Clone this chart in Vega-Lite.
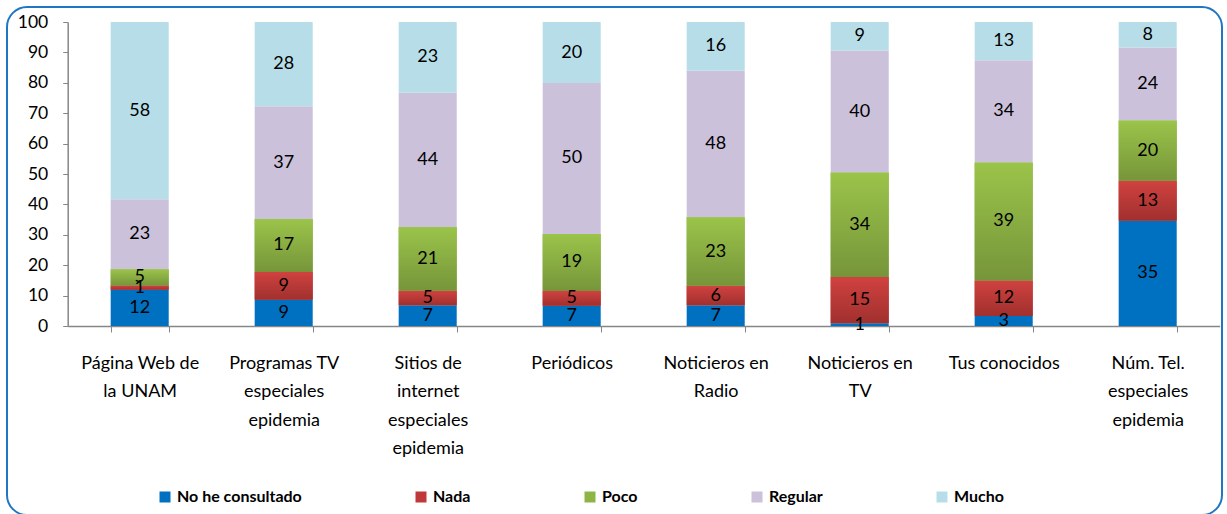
{
  "$schema": "https://vega.github.io/schema/vega-lite/v6.json",
  "autosize": "none",
  "width": 1215,
  "height": 508,
  "padding": {"left": 7, "top": 7, "right": 5, "bottom": 0},
  "background": "white",
  "config": {
    "view": {"stroke": "#2176C4", "strokeWidth": 2, "cornerRadius": 20},
    "font": "Lato",
    "axisY": {
      "title": null,
      "offset": -60.7,
      "values": [0, 10, 20, 30, 40, 50, 60, 70, 80, 90, 100],
      "grid": false,
      "tickSize": 5,
      "tickColor": "#868686",
      "domainColor": "#868686",
      "domainWidth": 1.5,
      "labelFontSize": 17.5,
      "labelColor": "#000000",
      "labelPadding": 15
    }
  },
  "data": {
    "values": [
      {"cat": "Página Web de la UNAM", "serie": "No he consultado", "k": 1, "v": 11.9},
      {"cat": "Página Web de la UNAM", "serie": "Nada", "k": 2, "v": 1.4},
      {"cat": "Página Web de la UNAM", "serie": "Poco", "k": 3, "v": 5.4},
      {"cat": "Página Web de la UNAM", "serie": "Regular", "k": 4, "v": 23.0},
      {"cat": "Página Web de la UNAM", "serie": "Mucho", "k": 5, "v": 58.3},
      {"cat": "Programas TV especiales epidemia", "serie": "No he consultado", "k": 1, "v": 8.6},
      {"cat": "Programas TV especiales epidemia", "serie": "Nada", "k": 2, "v": 9.2},
      {"cat": "Programas TV especiales epidemia", "serie": "Poco", "k": 3, "v": 17.4},
      {"cat": "Programas TV especiales epidemia", "serie": "Regular", "k": 4, "v": 37.1},
      {"cat": "Programas TV especiales epidemia", "serie": "Mucho", "k": 5, "v": 27.7},
      {"cat": "Sitios de internet especiales epidemia", "serie": "No he consultado", "k": 1, "v": 6.8},
      {"cat": "Sitios de internet especiales epidemia", "serie": "Nada", "k": 2, "v": 4.8},
      {"cat": "Sitios de internet especiales epidemia", "serie": "Poco", "k": 3, "v": 21.0},
      {"cat": "Sitios de internet especiales epidemia", "serie": "Regular", "k": 4, "v": 44.1},
      {"cat": "Sitios de internet especiales epidemia", "serie": "Mucho", "k": 5, "v": 23.3},
      {"cat": "Periódicos", "serie": "No he consultado", "k": 1, "v": 6.7},
      {"cat": "Periódicos", "serie": "Nada", "k": 2, "v": 4.8},
      {"cat": "Periódicos", "serie": "Poco", "k": 3, "v": 18.8},
      {"cat": "Periódicos", "serie": "Regular", "k": 4, "v": 49.6},
      {"cat": "Periódicos", "serie": "Mucho", "k": 5, "v": 20.1},
      {"cat": "Noticieros en Radio", "serie": "No he consultado", "k": 1, "v": 6.8},
      {"cat": "Noticieros en Radio", "serie": "Nada", "k": 2, "v": 6.4},
      {"cat": "Noticieros en Radio", "serie": "Poco", "k": 3, "v": 22.6},
      {"cat": "Noticieros en Radio", "serie": "Regular", "k": 4, "v": 48.2},
      {"cat": "Noticieros en Radio", "serie": "Mucho", "k": 5, "v": 16.0},
      {"cat": "Noticieros en TV", "serie": "No he consultado", "k": 1, "v": 0.9},
      {"cat": "Noticieros en TV", "serie": "Nada", "k": 2, "v": 15.2},
      {"cat": "Noticieros en TV", "serie": "Poco", "k": 3, "v": 34.4},
      {"cat": "Noticieros en TV", "serie": "Regular", "k": 4, "v": 40.1},
      {"cat": "Noticieros en TV", "serie": "Mucho", "k": 5, "v": 9.4},
      {"cat": "Tus conocidos", "serie": "No he consultado", "k": 1, "v": 3.3},
      {"cat": "Tus conocidos", "serie": "Nada", "k": 2, "v": 11.7},
      {"cat": "Tus conocidos", "serie": "Poco", "k": 3, "v": 38.8},
      {"cat": "Tus conocidos", "serie": "Regular", "k": 4, "v": 33.6},
      {"cat": "Tus conocidos", "serie": "Mucho", "k": 5, "v": 12.6},
      {"cat": "Núm. Tel. especiales epidemia", "serie": "No he consultado", "k": 1, "v": 34.6},
      {"cat": "Núm. Tel. especiales epidemia", "serie": "Nada", "k": 2, "v": 13.2},
      {"cat": "Núm. Tel. especiales epidemia", "serie": "Poco", "k": 3, "v": 19.8},
      {"cat": "Núm. Tel. especiales epidemia", "serie": "Regular", "k": 4, "v": 24.0},
      {"cat": "Núm. Tel. especiales epidemia", "serie": "Mucho", "k": 5, "v": 8.4}
    ]
  },
  "transform": [
    {"stack": "v", "groupby": ["cat"], "sort": [{"field": "k", "order": "ascending"}], "as": ["y0", "y1"]},
    {"calculate": "(datum.y0 + datum.y1) / 2", "as": "ym"}
  ],
  "encoding": {
    "x": {
      "field": "cat",
      "type": "nominal",
      "sort": null,
      "scale": {"range": [60.7, 1212.7], "paddingInner": 0.597, "paddingOuter": 0.2985},
      "axis": {
        "title": null,
        "offset": -189,
        "tickBand": "extent",
        "labelAngle": 0,
        "labelFontSize": 18,
        "labelLineHeight": 28.5,
        "labelPadding": 22,
        "labelColor": "#000000",
        "labelLimit": 0,
        "tickSize": 6,
        "tickColor": "#868686",
        "domainColor": "#868686",
        "domainWidth": 1.5,
        "labelExpr": "{'Página Web de la UNAM': ['Página Web de', 'la UNAM'], 'Programas TV especiales epidemia': ['Programas TV', 'especiales', 'epidemia'], 'Sitios de internet especiales epidemia': ['Sitios de', 'internet', 'especiales', 'epidemia'], 'Periódicos': ['Periódicos'], 'Noticieros en Radio': ['Noticieros en', 'Radio'], 'Noticieros en TV': ['Noticieros en', 'TV'], 'Tus conocidos': ['Tus conocidos'], 'Núm. Tel. especiales epidemia': ['Núm. Tel.', 'especiales', 'epidemia']}[datum.label]"
      }
    }
  },
  "layer": [
    {
      "mark": {"type": "bar"},
      "encoding": {
        "y": {
          "field": "y0",
          "type": "quantitative",
          "scale": {"domain": [0, 100], "range": [319, 15], "nice": false},
          "axis": {"title": null}
        },
        "y2": {"field": "y1"},
        "color": {
          "field": "serie",
          "type": "nominal",
          "scale": {
            "domain": ["No he consultado", "Nada", "Poco", "Regular", "Mucho"],
            "range": ["#0070C0", "#C0393A", "#8DB545", "#CBC1DA", "#B7DEE8"]
          },
          "legend": {
            "title": null,
            "orient": "none",
            "legendX": 150,
            "legendY": 482,
            "direction": "horizontal",
            "symbolType": "square",
            "symbolSize": 121,
            "symbolStrokeWidth": 0,
            "labelFontSize": 16,
            "labelFontWeight": "bold",
            "labelColor": "#000000",
            "labelOffset": 4,
            "columnPadding": 111
          }
        }
      }
    },
    {
      "transform": [{"filter": "datum.serie === 'Nada'"}],
      "mark": {
        "type": "bar",
        "color": {"gradient": "linear", "x1": 0, "y1": 0, "x2": 0, "y2": 1,
          "stops": [{"offset": 0, "color": "#D04240"}, {"offset": 1, "color": "#A0302E"}]}
      },
      "encoding": {
        "y": {"field": "y0", "type": "quantitative", "axis": {"title": null}},
        "y2": {"field": "y1"}
      }
    },
    {
      "transform": [{"filter": "datum.serie === 'Poco'"}],
      "mark": {
        "type": "bar",
        "color": {"gradient": "linear", "x1": 0, "y1": 0, "x2": 0, "y2": 1,
          "stops": [{"offset": 0, "color": "#9BC44A"}, {"offset": 1, "color": "#76953A"}]}
      },
      "encoding": {
        "y": {"field": "y0", "type": "quantitative", "axis": {"title": null}},
        "y2": {"field": "y1"}
      }
    },
    {
      "mark": {"type": "text", "fontSize": 18, "color": "#000000", "baseline": "middle"},
      "encoding": {
        "y": {"field": "ym", "type": "quantitative", "axis": {"title": null}},
        "text": {"field": "v", "type": "quantitative", "format": ".0f"}
      }
    }
  ]
}
